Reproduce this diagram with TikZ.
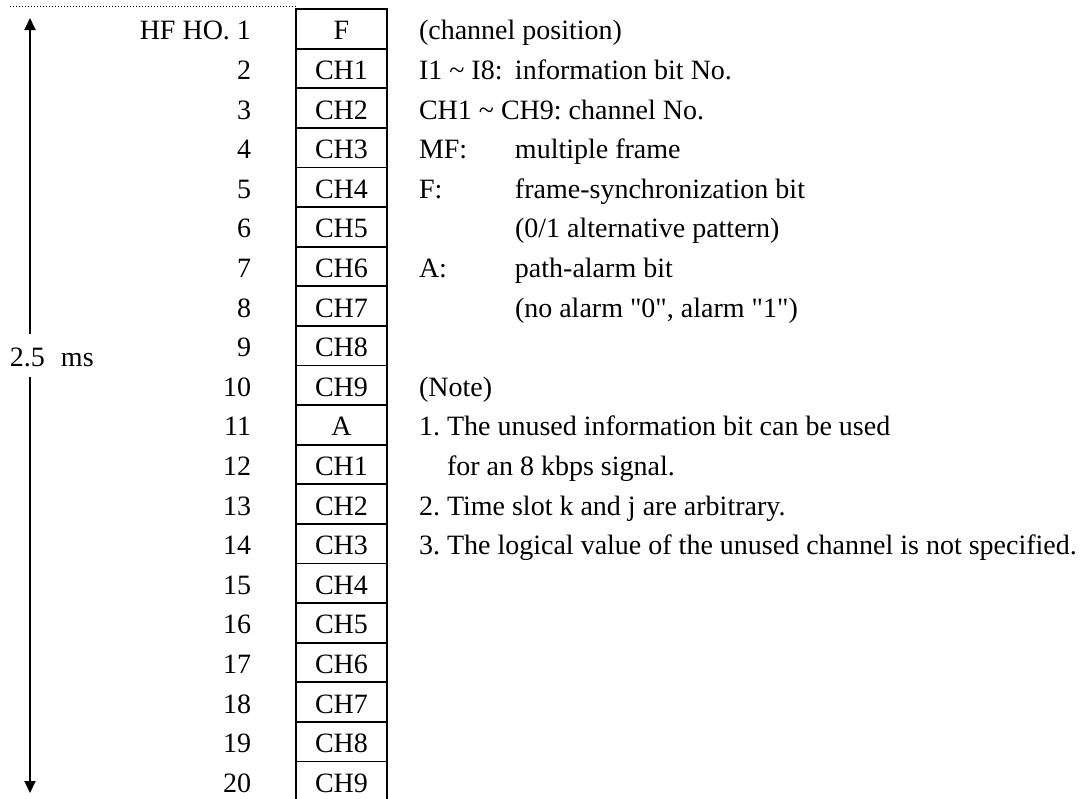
\documentclass[tikz,border=0pt]{standalone}
\usepackage{fontspec}
\setmainfont{Liberation Serif}
\usetikzlibrary{positioning,arrows.meta}

\newcommand{\legkey}[1]{\makebox[48pt][l]{#1}}

\begin{document}
\begin{tikzpicture}[
 x=1pt, y=1pt,
 font=\fontsize{14pt}{16pt}\selectfont\frenchspacing,
 slot/.style={rectangle, draw, line width=0.9pt, minimum width=45.5pt, minimum height=19.8pt, inner sep=0pt, outer sep=0pt, text height=11pt, text depth=0pt},
 num/.style={inner sep=0pt, outer sep=0pt, text height=11pt, text depth=0pt},
 arrow/.style={-{Triangle[width=5.5pt,length=6pt]}, line width=0.9pt},
 dotline/.style={densely dotted, line width=0.5pt}
]
\useasboundingbox (0,0) rectangle (545.5,-399);

% Time slots
\node[slot] at (170.75,-14.4) (c1) {F};
\node[slot, below=0pt of c1] (c2) {CH1};
\node[slot, below=0pt of c2] (c3) {CH2};
\node[slot, below=0pt of c3] (c4) {CH3};
\node[slot, below=0pt of c4] (c5) {CH4};
\node[slot, below=0pt of c5] (c6) {CH5};
\node[slot, below=0pt of c6] (c7) {CH6};
\node[slot, below=0pt of c7] (c8) {CH7};
\node[slot, below=0pt of c8] (c9) {CH8};
\node[slot, below=0pt of c9] (c10) {CH9};
\node[slot, below=0pt of c10] (c11) {A};
\node[slot, below=0pt of c11] (c12) {CH1};
\node[slot, below=0pt of c12] (c13) {CH2};
\node[slot, below=0pt of c13] (c14) {CH3};
\node[slot, below=0pt of c14] (c15) {CH4};
\node[slot, below=0pt of c15] (c16) {CH5};
\node[slot, below=0pt of c16] (c17) {CH6};
\node[slot, below=0pt of c17] (c18) {CH7};
\node[slot, below=0pt of c18] (c19) {CH8};
\node[slot, below=0pt of c19] (c20) {CH9};

% Slot numbers
\node[num, left=22.5pt of c1] (n1) {HF HO. 1};
\node[num, left=22.5pt of c2] (n2) {2};
\node[num, left=22.5pt of c3] (n3) {3};
\node[num, left=22.5pt of c4] (n4) {4};
\node[num, left=22.5pt of c5] (n5) {5};
\node[num, left=22.5pt of c6] (n6) {6};
\node[num, left=22.5pt of c7] (n7) {7};
\node[num, left=22.5pt of c8] (n8) {8};
\node[num, left=22.5pt of c9] (n9) {9};
\node[num, left=22.5pt of c10] (n10) {10};
\node[num, left=22.5pt of c11] (n11) {11};
\node[num, left=22.5pt of c12] (n12) {12};
\node[num, left=22.5pt of c13] (n13) {13};
\node[num, left=22.5pt of c14] (n14) {14};
\node[num, left=22.5pt of c15] (n15) {15};
\node[num, left=22.5pt of c16] (n16) {16};
\node[num, left=22.5pt of c17] (n17) {17};
\node[num, left=22.5pt of c18] (n18) {18};
\node[num, left=22.5pt of c19] (n19) {19};
\node[num, left=22.5pt of c20] (n20) {20};

% Legend
\node[num, right=16pt of c1] (t1) {(channel position)};
\node[num, right=16pt of c2] (t2) {\legkey{I1 \textasciitilde{} I8:}information bit No.};
\node[num, right=16pt of c3] (t3) {CH1 \textasciitilde{} CH9: channel No.};
\node[num, right=16pt of c4] (t4) {\legkey{MF:}multiple frame};
\node[num, right=16pt of c5] (t5) {\legkey{F:}frame-synchronization bit};
\node[num, right=16pt of c6] (t6) {\legkey{}(0/1 alternative pattern)};
\node[num, right=16pt of c7] (t7) {\legkey{A:}path-alarm bit};
\node[num, right=16pt of c8] (t8) {\legkey{}(no alarm \textquotedbl 0\textquotedbl, alarm \textquotedbl 1\textquotedbl)};

% Notes
\node[num, right=16pt of c10] (t10) {(Note)};
\node[num, right=16pt of c11] (t11) {1. The unused information bit can be used};
\node[num, right=16pt of c12] (t12) {\hphantom{1.}\ for an 8 kbps signal.};
\node[num, right=16pt of c13] (t13) {2. Time slot k and j are arbitrary.};
\node[num, right=16pt of c14] (t14) {3. The logical value of the unused channel is not specified.};

% Frame period
\coordinate (ptop) at (15,-9);
\coordinate (pbot) at (15,-396.5);
\coordinate (dstart) at (5,-3.4);
\node[num, anchor=west, minimum height=21.5pt] at (5,-177.5) (period) {2.5\hspace{8pt}ms};
\draw[arrow] (period.north -| ptop) -- (ptop);
\draw[arrow] (period.south -| pbot) -- (pbot);
\draw[dotline] (dstart) -- (dstart -| c1.west);

\end{tikzpicture}
\end{document}
